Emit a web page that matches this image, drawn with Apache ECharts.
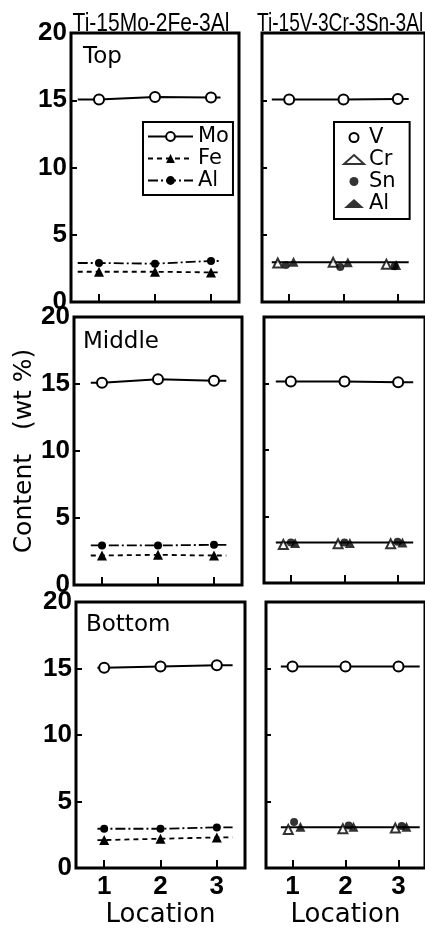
<!DOCTYPE html>
<html><head><meta charset="utf-8">
<script src="https://cdn.jsdelivr.net/npm/echarts@6/dist/echarts.min.js"></script>
<style>html,body{margin:0;padding:0;background:#fff}#c{width:425px;height:929px}</style>
</head><body><div id="c"></div>
<script>
// ---------------- data ----------------
const locations = [1, 2, 3];
const xTickLabels = ['1', '2', '3'];
const panelNames = ['Top', 'Middle', 'Bottom'];
const alloyNames = ['Ti-15Mo-2Fe-3Al', 'Ti-15V-3Cr-3Sn-3Al'];
const yAxisTitle = 'Content   (wt %)';
const xAxisTitle = 'Location';

// Ti-15Mo-2Fe-3Al  (rows: Top, Middle, Bottom; columns: location 1,2,3)
const moData   = [[15.05, 15.25, 15.2], [15.1, 15.35, 15.25], [15.05, 15.15, 15.25]];
const feData   = [[2.25, 2.25, 2.2],    [2.2, 2.25, 2.2],     [2.1, 2.2, 2.3]];
const alMoData = [[2.9, 2.85, 3.05],    [2.95, 2.95, 3.0],    [2.95, 2.95, 3.05]];
const leftLineSpan = [[0.62, 3.17], [0.8, 3.22], [0.88, 3.28]];

// Ti-15V-3Cr-3Sn-3Al
const vData   = [[15.05, 15.05, 15.1], [15.15, 15.15, 15.1], [15.15, 15.15, 15.15]];
const crData  = [[2.9, 2.95, 2.8],     [2.9, 2.95, 2.95],    [2.9, 2.95, 3.0]];
const snData  = [[2.75, 2.6, 2.65],    [3.05, 3.05, 3.1],    [3.45, 3.2, 3.15]];
const alVData = [[3.0, 2.95, 2.75],    [3.0, 3.0, 3.05],     [3.1, 3.1, 3.1]];
const crLoc   = [[0.79, 1.81, 2.79], [0.86, 1.88, 2.86], [0.92, 1.95, 2.94]];
const snLoc   = [[0.94, 1.94, 2.94], [1.0, 2.0, 2.99],   [1.03, 2.06, 3.06]];
const alVLoc  = [[1.08, 2.08, 2.97], [1.08, 2.1, 3.08],  [1.15, 2.15, 3.15]];
const lowLevel = [2.95, 3.05, 3.07];
const rightLineSpan = [[0.68, 3.2], [0.72, 3.28], [0.78, 3.4]];

// ---------------- layout ----------------
const grids = [
  {left: 71, top: 33, width: 168, height: 269},
  {left: 262, top: 33, width: 165, height: 269},
  {left: 74, top: 317, width: 168, height: 268},
  {left: 264, top: 317, width: 165, height: 266},
  {left: 76, top: 602, width: 169, height: 267},
  {left: 266, top: 602, width: 166, height: 267}
];
const labelFont = 'Liberation Sans';
const textFont = 'DejaVu Sans';

const xAxes = [], yAxes = [], series = [];
grids.forEach((g, gi) => {
  const isLeft = gi % 2 === 0;
  const isBottom = gi >= 4;
  xAxes.push({
    gridIndex: gi, type: 'value', min: 0.5, max: 3.5,
    axisLine: {show: false}, splitLine: {show: false},
    axisTick: {show: true, inside: true, length: 8, customValues: locations, lineStyle: {color: '#000', width: 2}},
    axisLabel: {show: isBottom, customValues: locations, margin: 6, color: '#000', fontFamily: labelFont, fontSize: 26,
      fontWeight: 'bold', formatter: v => xTickLabels[locations.indexOf(v)]},
    name: isBottom ? xAxisTitle : '', nameLocation: 'middle', nameGap: 34,
    nameTextStyle: {color: '#000', fontFamily: textFont, fontSize: 26}
  });
  yAxes.push({
    gridIndex: gi, type: 'value', min: 0, max: 20, interval: 5,
    axisLine: {show: false}, splitLine: {show: false},
    axisTick: {show: true, inside: true, length: isLeft ? 6 : 5, lineStyle: {color: '#000', width: 2}},
    axisLabel: {show: isLeft, margin: 4, color: '#000', fontFamily: labelFont, fontSize: 26, fontWeight: 'bold'},
    name: gi === 2 ? yAxisTitle : '', nameLocation: 'middle', nameGap: 37,
    nameTextStyle: {color: '#000', fontFamily: textFont, fontSize: 25}
  });
});

function lineWithEnds(name, gi, vals, span, symbol, size, lineType, width) {
  return {
    type: 'line', name, xAxisIndex: gi, yAxisIndex: gi, animation: false,
    symbol, symbolSize: size, showAllSymbol: true,
    data: [{value: [span[0], vals[0]], symbol: 'none'}]
      .concat(locations.map((x, i) => [x, vals[i]]))
      .concat([{value: [span[1], vals[vals.length - 1]], symbol: 'none'}]),
    lineStyle: {color: '#000', width: width, type: lineType},
    itemStyle: {color: '#000', borderWidth: 1.6},
    emphasis: {disabled: true}
  };
}
function scatter(name, gi, xs, vals, symbol, size) {
  return {
    type: 'scatter', name, xAxisIndex: gi, yAxisIndex: gi, animation: false,
    symbol, symbolSize: size, z: 4,
    data: xs.map((x, i) => [x, vals[i]]),
    itemStyle: {color: '#000', borderWidth: 1.5},
    emphasis: {disabled: true}
  };
}

for (let p = 0; p < 3; p++) {
  const gl = p * 2, gr = p * 2 + 1;
  series.push(lineWithEnds('Mo', gl, moData[p], leftLineSpan[p], 'emptyCircle', 10, 'solid', 2));
  series.push(lineWithEnds('Fe', gl, feData[p], leftLineSpan[p], 'triangle', 10, [5, 4], 1.8));
  series.push(lineWithEnds('Al', gl, alMoData[p], leftLineSpan[p], 'circle', 8, [10, 3, 2, 3], 1.8));
  series.push(lineWithEnds('V', gr, vData[p], rightLineSpan[p], 'emptyCircle', 10, 'solid', 2));
  series.push({
    type: 'line', name: 'low', xAxisIndex: gr, yAxisIndex: gr, animation: false, symbol: 'none',
    data: rightLineSpan[p].map(x => [x, lowLevel[p]]),
    lineStyle: {color: '#000', width: 2}, emphasis: {disabled: true}
  });
  series.push(scatter('Cr', gr, crLoc[p], crData[p], 'emptyTriangle', 9));
  series.push(scatter('Sn', gr, snLoc[p], snData[p], 'circle', 8));
  series.push(scatter('Al ', gr, alVLoc[p], alVData[p], 'triangle', 10));
}

function txt(text, x, y, font, align, sx) {
  return {type: 'text', x, y, scaleX: sx || 1,
    style: {text, font, fill: '#000', align, verticalAlign: 'middle', textAlign: align, textVerticalAlign: 'middle'}};
}
const graphics = [
  txt(alloyNames[0], 151, 24, "25px 'Liberation Sans'", 'center', 0.84),
  txt(alloyNames[1], 257, 24, "25px 'Liberation Sans'", 'left', 0.765),
  txt(panelNames[0], 83, 57, "23px 'DejaVu Sans'", 'left'),
  txt(panelNames[1], 83, 342, "23px 'DejaVu Sans'", 'left'),
  txt(panelNames[2], 86, 625, "23px 'DejaVu Sans'", 'left')
];

const chart = echarts.init(document.getElementById('c'), null, {renderer: 'canvas'});
chart.setOption({
  backgroundColor: '#fff',
  animation: false,
  grid: grids.map(g => Object.assign({show: true, borderColor: '#000', borderWidth: 3, containLabel: false}, g)),
  xAxis: xAxes,
  yAxis: yAxes,
  legend: [
    {data: ['Mo', 'Fe', 'Al'], orient: 'vertical', left: 143, top: 122, itemWidth: 45, itemHeight: 11, itemGap: 1,
     padding: [4, 4, 4, 4], borderColor: '#000', borderWidth: 2, selectedMode: false,
     textStyle: {color: '#000', fontFamily: textFont, fontSize: 21}},
    {data: [{name: 'V', icon: 'emptyCircle'}, {name: 'Cr', icon: 'emptyTriangle'}, {name: 'Sn', icon: 'circle'}, {name: 'Al ', icon: 'triangle'}],
     orient: 'vertical', left: 334, top: 122, itemWidth: 20, itemHeight: 9, itemGap: 1,
     padding: [5, 14, 5, 9], borderColor: '#000', borderWidth: 2, selectedMode: false,
     formatter: n => n.trim(),
     textStyle: {color: '#000', fontFamily: textFont, fontSize: 21}}
  ],
  graphic: graphics,
  series: series
});
</script></body></html>
